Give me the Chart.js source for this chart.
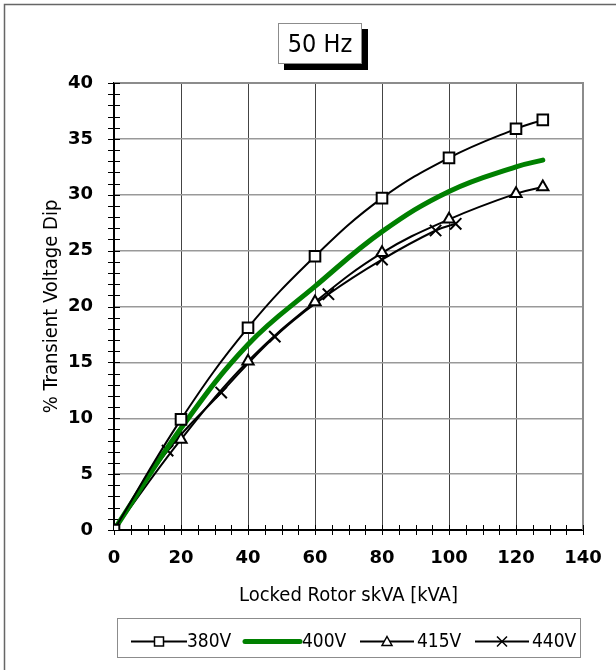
<!DOCTYPE html>
<html><head><meta charset="utf-8">
<script src="https://cdn.jsdelivr.net/npm/chart.js@4/dist/chart.umd.min.js"></script>
<style>html,body{margin:0;padding:0;background:#fff;}#wrap{width:616px;height:670px;}</style>
</head><body><div id="wrap"><canvas id="c" width="616" height="670"></canvas></div>
<script>
const chartTitle = '50 Hz';
const xTitle = 'Locked Rotor skVA [kVA]';
const yTitle = '% Transient Voltage Dip';
const seriesNames = ['380V', '400V', '415V', '440V'];
const kva380 = [0, 20, 40, 60, 80, 100, 120, 128];
const dip380 = [0, 9.9, 18.1, 24.5, 29.7, 33.3, 35.9, 36.7];
const kva400 = [0, 20, 40, 60, 80, 100, 120, 128];
const dip400 = [0, 9.1, 16.6, 21.8, 26.7, 30.3, 32.5, 33.1];
const kva415 = [0, 20, 40, 60, 80, 100, 120, 128];
const dip415 = [0, 8.1, 15.1, 20.4, 24.8, 27.8, 30.1, 30.7];
const kva440 = [0, 16, 32, 48, 64, 80, 96, 102];
const dip440 = [0, 7.1, 12.3, 17.3, 21.1, 24.2, 26.8, 27.4];
const xTicks = [0, 20, 40, 60, 80, 100, 120, 140];
const yTicks = [0, 5, 10, 15, 20, 25, 30, 35, 40];

const pts = (xs, ys) => xs.map((x, i) => ({x: x, y: ys[i]}));
const FONT = "'DejaVu Sans Condensed', 'DejaVu Sans', sans-serif";

const decor = {
  id: 'decor',
  beforeDatasetsDraw(chart) {
    const {ctx, chartArea: a, scales: {x, y}} = chart;
    ctx.save();
    ctx.strokeStyle = '#8c8c8c'; ctx.lineWidth = 2;
    ctx.beginPath();
    ctx.moveTo(a.left, a.top); ctx.lineTo(a.right, a.top); ctx.lineTo(a.right, a.bottom);
    ctx.stroke();
    ctx.strokeStyle = '#000'; ctx.lineWidth = 1;
    ctx.beginPath();
    for (let v = y.min; v <= y.max; v += 1) {
      const py = Math.round(y.getPixelForValue(v)) + 0.5;
      ctx.moveTo(a.left - 6, py); ctx.lineTo(a.left + 6, py);
    }
    for (let v = x.min; v <= x.max; v += 5) {
      const px = Math.round(x.getPixelForValue(v)) + 0.5;
      ctx.moveTo(px, a.bottom - 5); ctx.lineTo(px, a.bottom + 5);
    }
    ctx.stroke();
    ctx.restore();
  },
  afterDraw(chart) {
    const {ctx} = chart;
    ctx.save();
    ctx.strokeStyle = '#666'; ctx.lineWidth = 1.5;
    ctx.beginPath(); ctx.moveTo(4.5, 670); ctx.lineTo(4.5, 4.5); ctx.lineTo(616, 4.5); ctx.stroke();
    ctx.fillStyle = '#000';
    ctx.fillRect(284, 29, 84, 41);
    ctx.fillStyle = '#fff';
    ctx.fillRect(278, 23, 84, 41);
    ctx.strokeStyle = '#8c8c8c'; ctx.lineWidth = 1;
    ctx.strokeRect(278.5, 23.5, 83, 40);
    ctx.fillStyle = '#000';
    ctx.font = "25px " + FONT;
    ctx.textAlign = 'center'; ctx.textBaseline = 'middle';
    ctx.fillText(chartTitle, 320, 45);
    ctx.strokeStyle = '#8c8c8c'; ctx.lineWidth = 1;
    ctx.strokeRect(117.5, 618.5, 463, 39);
    const ly = 641.5;
    const items = [
      {x0: 131, x1: 187, tx: 187},
      {x0: 245, x1: 300, tx: 302},
      {x0: 360, x1: 414, tx: 417},
      {x0: 475, x1: 529, tx: 532}
    ];
    ctx.font = "19px " + FONT;
    ctx.textAlign = 'left';
    chart.data.datasets.forEach((ds, i) => {
      const it = items[i];
      ctx.strokeStyle = ds.borderColor; ctx.lineWidth = ds.borderWidth;
      ctx.lineCap = i === 1 ? 'round' : 'butt';
      ctx.beginPath(); ctx.moveTo(it.x0, ly); ctx.lineTo(it.x1, ly); ctx.stroke();
      const cx = (it.x0 + it.x1) / 2;
      ctx.lineWidth = 1.5; ctx.strokeStyle = '#000'; ctx.fillStyle = '#fff';
      if (ds.pointStyle === 'rect') {
        ctx.fillRect(cx - 4.5, ly - 4.5, 9, 9); ctx.strokeRect(cx - 4.5, ly - 4.5, 9, 9);
      } else if (ds.pointStyle === 'triangle') {
        ctx.beginPath(); ctx.moveTo(cx, ly - 5); ctx.lineTo(cx + 5, ly + 4); ctx.lineTo(cx - 5, ly + 4); ctx.closePath();
        ctx.fill(); ctx.stroke();
      } else if (ds.pointStyle === 'crossRot') {
        ctx.beginPath(); ctx.moveTo(cx - 5, ly - 5); ctx.lineTo(cx + 5, ly + 5);
        ctx.moveTo(cx + 5, ly - 5); ctx.lineTo(cx - 5, ly + 5); ctx.stroke();
      }
      ctx.fillStyle = '#000';
      ctx.fillText(ds.label, it.tx, ly + 1);
    });
    ctx.restore();
  }
};

new Chart(document.getElementById('c'), {
  type: 'line',
  data: {
    datasets: [
      {label: seriesNames[0], data: pts(kva380, dip380), borderColor: '#000', borderWidth: 2,
       pointStyle: 'rect', pointRadius: 7.5, pointBorderWidth: 2, pointBackgroundColor: '#fff', pointBorderColor: '#000'},
      {label: seriesNames[1], data: pts(kva400, dip400), borderColor: '#008000', borderWidth: 5,
       pointStyle: false, pointRadius: 0, borderCapStyle: 'round'},
      {label: seriesNames[2], data: pts(kva415, dip415), borderColor: '#000', borderWidth: 2,
       pointStyle: 'triangle', pointRadius: 6.5, pointBorderWidth: 2, pointBackgroundColor: '#fff', pointBorderColor: '#000'},
      {label: seriesNames[3], data: pts(kva440, dip440), borderColor: '#000', borderWidth: 2,
       pointStyle: 'crossRot', pointRadius: 8, pointBorderWidth: 2, pointBorderColor: '#000'}
    ]
  },
  options: {
    responsive: false,
    animation: false,
    events: [],
    elements: {line: {tension: 0.4}},
    layout: {padding: {top: 83, right: 33, left: 0, bottom: 0}},
    plugins: {legend: {display: false}, title: {display: false}, tooltip: {enabled: false}},
    scales: {
      x: {
        type: 'linear', min: 0, max: 140,
        afterBuildTicks: s => { s.ticks = xTicks.map(v => ({value: v})); },
        afterFit: s => { s.height = 140; s.paddingRight = 0; s.paddingLeft = 0; },
        grid: {color: '#444', lineWidth: 1, drawTicks: false},
        border: {color: '#000', width: 2},
        ticks: {padding: 18, color: '#000', font: {family: "'DejaVu Sans', sans-serif", weight: 'bold', size: 18}},
        title: {display: true, text: xTitle, color: '#000', font: {family: FONT, size: 20}, padding: {top: 0, bottom: 62}}
      },
      y: {
        type: 'linear', min: 0, max: 40,
        afterBuildTicks: s => { s.ticks = yTicks.map(v => ({value: v})); },
        afterFit: s => { s.width = 114; s.paddingTop = 0; s.paddingBottom = 0; },
        grid: {color: '#999', lineWidth: 1.5, drawTicks: false},
        border: {color: '#000', width: 2},
        ticks: {padding: 21, color: '#000', font: {family: "'DejaVu Sans', sans-serif", weight: 'bold', size: 18}},
        title: {display: true, text: yTitle, color: '#000', font: {family: FONT, size: 20}, padding: {top: 40, bottom: 0}}
      }
    }
  },
  plugins: [decor]
});
</script></body></html>
